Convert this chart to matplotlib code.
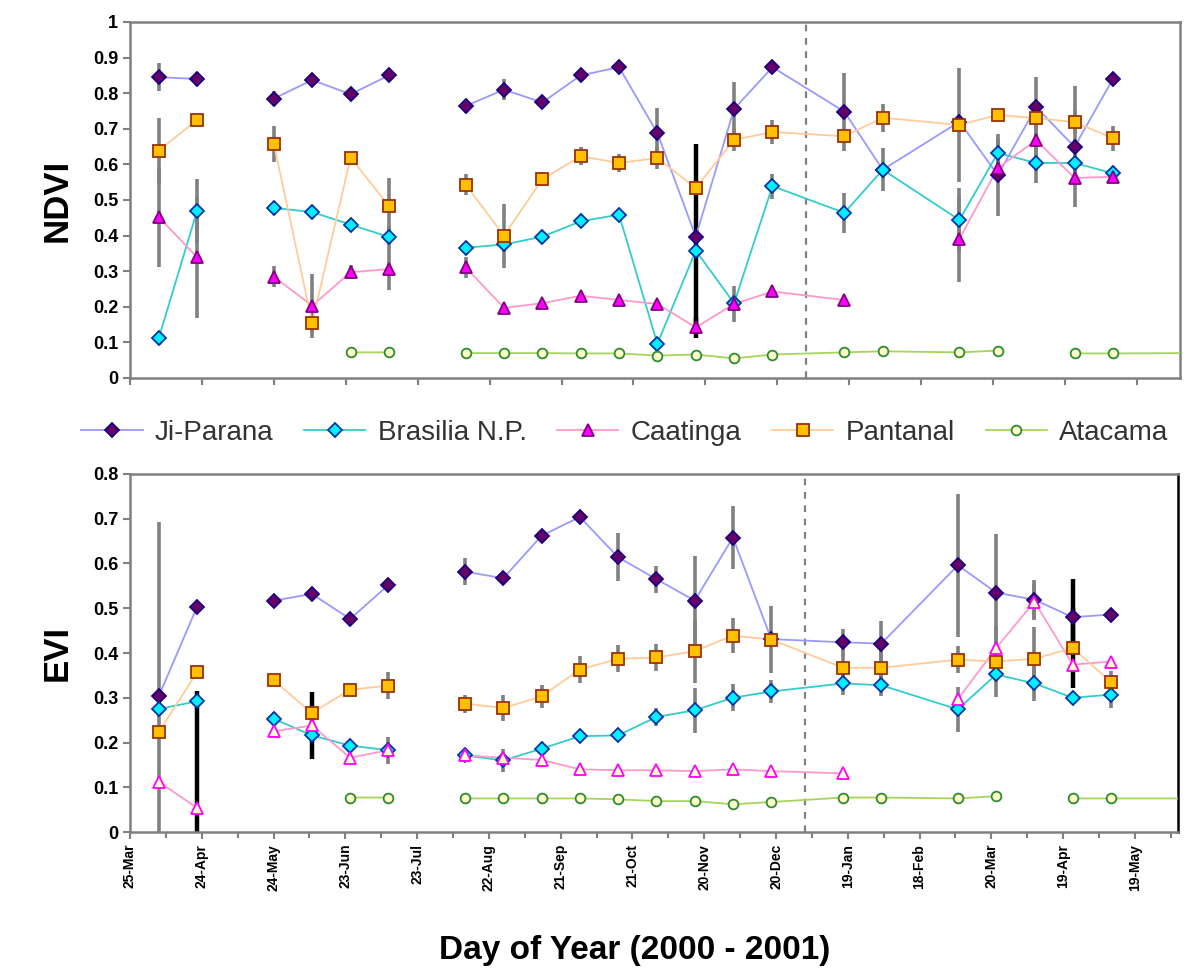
import numpy as np
import pandas as pd
import matplotlib
matplotlib.use("Agg")
import matplotlib.pyplot as plt
import matplotlib.dates as mdates
from matplotlib.lines import Line2D
from matplotlib.ticker import FuncFormatter, MultipleLocator

plt.rcParams["font.family"] = ["Liberation Sans", "DejaVu Sans"]

# ========================================================================
# Data (16-day composites, nan rows split the line segments)
# ========================================================================
nan = np.nan
dates = pd.to_datetime([
    "2000-04-06", "2000-04-22", "2000-05-08", "2000-05-24", "2000-06-09",
    "2000-06-25", "2000-07-11", "2000-07-27", "2000-08-12", "2000-08-28",
    "2000-09-13", "2000-09-29", "2000-10-15", "2000-10-31", "2000-11-16",
    "2000-12-02", "2000-12-18", "2001-01-17", "2001-02-02", "2001-03-06",
    "2001-03-22", "2001-04-07", "2001-04-23", "2001-05-09", "2001-06-10",
])
names = ["Ji-Parana", "Brasilia N.P.", "Caatinga", "Pantanal", "Atacama"]

ndvi_jiparana = [0.845, 0.84, nan, 0.785, 0.837, 0.797, 0.85, nan, 0.764, 0.81,
                 0.774, 0.85, 0.873, 0.688, 0.397, 0.756, 0.873, 0.748, 0.585,
                 0.72, 0.57, 0.761, 0.649, 0.84, nan]
ndvi_brasilia = [0.112, 0.47, nan, 0.478, 0.466, 0.431, 0.396, nan, 0.366, 0.375,
                 0.397, 0.44, 0.459, 0.096, 0.358, 0.21, 0.539, 0.464, 0.585,
                 0.444, 0.632, 0.604, 0.604, 0.575, nan]
ndvi_caatinga = [0.452, 0.339, nan, 0.285, 0.203, 0.297, 0.306, nan, 0.311, 0.197,
                 0.21, 0.231, 0.219, 0.208, 0.142, 0.208, 0.243, 0.219, nan,
                 0.391, 0.59, 0.668, 0.562, 0.565, nan]
ndvi_pantanal = [0.639, 0.725, nan, 0.658, 0.155, 0.619, 0.483, nan, 0.543, 0.40,
                 0.558, 0.623, 0.604, 0.618, 0.534, 0.669, 0.691, 0.679, 0.731,
                 0.711, 0.739, 0.73, 0.719, 0.674, nan]
ndvi_atacama = [nan, nan, nan, nan, nan, 0.072, 0.072, nan, 0.07, 0.07, 0.07,
                0.069, 0.069, 0.063, 0.066, 0.055, 0.066, 0.072, 0.075, 0.072,
                0.077, nan, 0.069, 0.069, 0.07]

ndvi_err_jiparana = [0.04, 0.02, 0, 0.02, 0, 0, 0, 0, 0.02, 0.03, 0, 0, 0, 0.07,
                     0.26, 0.075, 0, 0.11, 0, 0, 0.115, 0.085, 0.17, 0, 0]
ndvi_err_brasilia = [0.02, 0.09, 0, 0.02, 0.015, 0.015, 0.03, 0, 0.02, 0.02, 0, 0,
                     0, 0.02, 0, 0, 0.035, 0.056, 0.06, 0.09, 0.04, 0.055, 0.03,
                     0.02, 0]
ndvi_err_caatinga = [0.14, 0.17, 0, 0.03, 0.09, 0.02, 0.06, 0, 0.03, 0.015, 0, 0,
                     0, 0, 0.03, 0.05, 0, 0, 0, 0.12, 0, 0.06, 0, 0.015, 0]
ndvi_err_pantanal = [0.09, 0, 0, 0.05, 0.03, 0, 0.08, 0, 0.03, 0.09, 0.02, 0.025,
                     0.025, 0.03, 0, 0.03, 0.035, 0, 0.04, 0.16, 0, 0.03, 0.03,
                     0.035, 0]

evi_jiparana = [0.303, 0.503, nan, 0.517, 0.532, 0.476, 0.552, nan, 0.582, 0.567,
                0.662, 0.704, 0.614, 0.565, 0.517, 0.658, 0.431, 0.424, 0.421,
                0.596, 0.535, 0.519, 0.48, 0.486, nan]
evi_brasilia = [0.275, 0.292, nan, 0.253, 0.216, 0.193, 0.183, nan, 0.171, 0.16,
                0.186, 0.214, 0.216, 0.257, 0.272, 0.30, 0.314, 0.332, 0.328,
                0.274, 0.352, 0.332, 0.30, 0.307, nan]
evi_caatinga = [0.112, 0.054, nan, 0.225, 0.238, 0.166, 0.183, nan, 0.171, 0.166,
                0.161, 0.14, 0.138, 0.138, 0.136, 0.14, 0.136, 0.131, nan, 0.297,
                0.411, 0.515, 0.374, 0.381, nan]
evi_pantanal = [0.223, 0.357, nan, 0.339, 0.266, 0.318, 0.327, nan, 0.287, 0.277,
                0.303, 0.363, 0.387, 0.39, 0.404, 0.439, 0.43, 0.367, 0.367,
                0.385, 0.381, 0.387, 0.411, 0.335, nan]
evi_atacama = [nan, nan, nan, nan, nan, 0.077, 0.077, nan, 0.075, 0.075, 0.075,
               0.075, 0.073, 0.069, 0.069, 0.062, 0.067, 0.077, 0.077, 0.075,
               0.08, nan, 0.075, 0.075, 0.075]

evi_err_jiparana = [0.39, 0, 0, 0, 0, 0, 0, 0, 0.03, 0, 0, 0, 0.054, 0.03, 0.1,
                    0.07, 0, 0.03, 0.05, 0.16, 0.13, 0.045, 0.085, 0, 0]
evi_err_brasilia = [0, 0, 0, 0.015, 0, 0, 0, 0, 0, 0.025, 0.015, 0, 0, 0.02, 0.05,
                    0.03, 0.025, 0.025, 0.025, 0.05, 0, 0.04, 0, 0.03, 0]
evi_err_caatinga = [0, 0.26, 0, 0, 0.075, 0, 0.03, 0, 0, 0, 0, 0, 0, 0, 0, 0, 0,
                    0, 0, 0, 0, 0.04, 0.04, 0, 0]
evi_err_pantanal = [0, 0, 0, 0, 0, 0, 0.03, 0, 0.02, 0.03, 0.025, 0.03, 0.03, 0.03,
                    0.07, 0.04, 0.075, 0.03, 0.04, 0.03, 0.08, 0.07, 0.09, 0.025, 0]

# error bars drawn in black instead of grey (series index -> point indices)
ndvi_dark = {0: [14], 2: [14]}
evi_dark = {2: [1, 4], 0: [22], 3: [22]}

# ========================================================================
# Styles
# ========================================================================
line_cols = ["#9999FF", "#33CCCC", "#FF99CC", "#FFCC99", "#A8D45A"]
face_cols = ["#660066", "#00F0FF", "#FF00FF", "#FFC000", "#FFFFCC"]
edge_cols = ["#1A0080", "#0033AA", "#800080", "#993300", "#2E8B2E"]
markers = ["D", "D", "^", "s", "o"]
msizes = [7, 7, 8, 8, 7]

start = pd.Timestamp("2000-03-25")
xmin, xmax = start, start + pd.Timedelta(days=438)
ticks = pd.date_range(start, periods=15, freq="30D")


def draw_panel(ax, series, errs, dark, caat_open):
    for i, vals in enumerate(series):
        vals = np.array(vals, dtype=float)
        if i < len(errs):
            e = np.array(errs[i], dtype=float)
            m = np.isfinite(vals) & (e > 0)
            dk = np.zeros(len(vals), bool)
            dk[dark.get(i, [])] = True
            for mask, col, lw in [(m & ~dk, "#808080", 2.6), (m & dk, "#000000", 3.2)]:
                if mask.any():
                    ax.vlines(dates[mask], vals[mask] - e[mask], vals[mask] + e[mask],
                              color=col, lw=lw, zorder=2)
        ax.plot(dates, vals, color=line_cols[i], lw=1.3, zorder=3)
    for i, vals in enumerate(series):
        fc, ec = face_cols[i], edge_cols[i]
        if i == 2 and caat_open:
            fc, ec = "#FFFFCC", "#FF00FF"
        ax.plot(dates, vals, ls="none", marker=markers[i], ms=msizes[i],
                mfc=fc, mec=ec, mew=1.3, zorder=4 + i)
    ax.axvline(pd.Timestamp("2001-01-01"), color="#808080", ls=(0, (3, 3)),
               lw=1.6, zorder=1)
    ax.set_xlim(xmin, xmax)
    ax.set_xticks(ticks)
    for s in ax.spines.values():
        s.set_color("#808080")
        s.set_linewidth(1.8)
    ax.tick_params(axis="both", direction="out", color="#808080", width=1.5,
                   length=5, labelsize=13)
    ax.yaxis.set_major_formatter(FuncFormatter(lambda v, p: "%g" % round(v, 2)))


fig = plt.figure(figsize=(11.86, 9.72), dpi=100)
ax1 = fig.add_axes([130 / 1186, 1 - 378 / 972, 1050 / 1186, 356 / 972])
ax2 = fig.add_axes([130 / 1186, 1 - 832 / 972, 1048 / 1186, 358 / 972])

draw_panel(ax1,
           [ndvi_jiparana, ndvi_brasilia, ndvi_caatinga, ndvi_pantanal, ndvi_atacama],
           [ndvi_err_jiparana, ndvi_err_brasilia, ndvi_err_caatinga, ndvi_err_pantanal],
           ndvi_dark, False)
draw_panel(ax2,
           [evi_jiparana, evi_brasilia, evi_caatinga, evi_pantanal, evi_atacama],
           [evi_err_jiparana, evi_err_brasilia, evi_err_caatinga, evi_err_pantanal],
           evi_dark, True)

ax1.set_ylim(0, 1)
ax1.yaxis.set_major_locator(MultipleLocator(0.1))
ax1.set_xticklabels([])
for lab in ax1.get_yticklabels():
    lab.set_fontweight("bold")
ax1.set_ylabel("NDVI", fontsize=25, fontweight="bold", labelpad=14)

ax2.set_ylim(0, 0.8)
ax2.yaxis.set_major_locator(MultipleLocator(0.1))
ax2.set_xticks(pd.date_range(start, periods=30, freq="15D"), minor=True)
ax2.tick_params(axis="x", which="minor", direction="out", color="#808080",
                width=1.5, length=4)
ax2.xaxis.set_major_formatter(mdates.DateFormatter("%d-%b"))
for lab in ax2.get_yticklabels():
    lab.set_fontweight("bold")
for lab in ax2.get_xticklabels():
    lab.set_rotation(90)
    lab.set_fontsize(10)
    lab.set_fontweight("bold")
ax2.set_ylabel("EVI", fontsize=25, fontweight="bold", labelpad=14)
ax2.spines["right"].set_color("#000000")

fig.text(635 / 1186, 1 - 950 / 972, "Day of Year (2000 - 2001)", fontsize=24,
         fontweight="bold", ha="center", va="center")

handles = []
for i in range(5):
    handles.append(Line2D([], [], color=line_cols[i], lw=1.3, marker=markers[i],
                          ms=msizes[i], mfc=face_cols[i], mec=edge_cols[i], mew=1.3))
fig.legend(handles, names, loc="center", bbox_to_anchor=(625 / 1186, 1 - 433 / 972),
           ncol=5, frameon=False, fontsize=20, handlelength=2.2,
           columnspacing=1.1, handletextpad=0.45, labelcolor="#333333",
           borderpad=0.2)

fig.savefig("out.png", dpi=100)
